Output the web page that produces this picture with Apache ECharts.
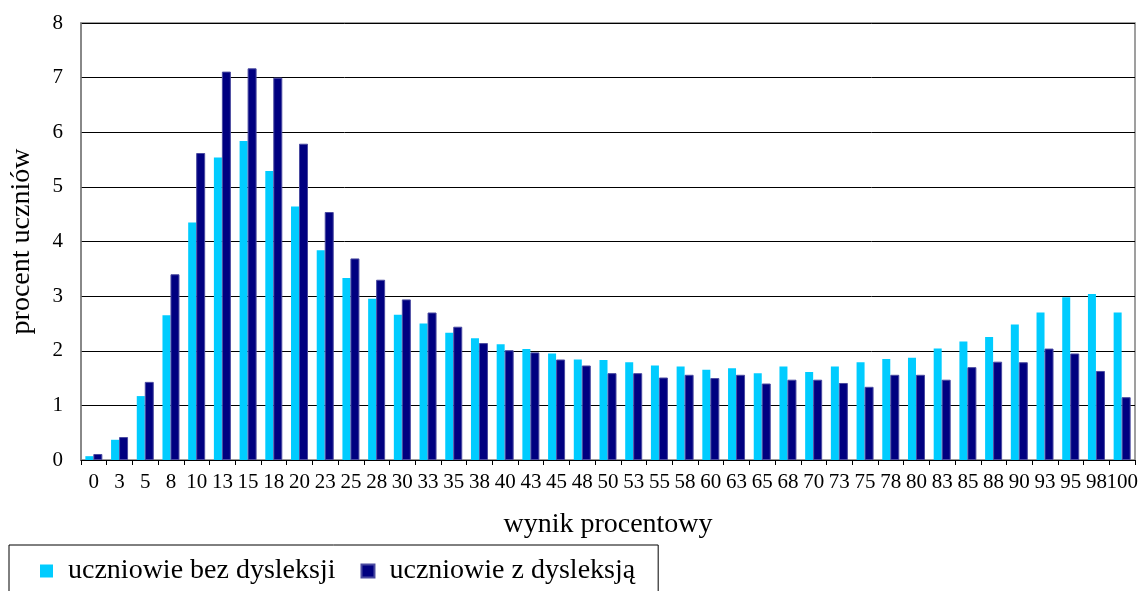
<!DOCTYPE html>
<html>
<head>
<meta charset="utf-8">
<script src="https://cdn.jsdelivr.net/npm/echarts@6/dist/echarts.min.js"></script>
<style>
  html, body { margin: 0; padding: 0; background: #fff; }
  #chart { width: 1141px; height: 591px; }
</style>
</head>
<body>
<div id="chart"></div>
<script>
// Wynik procentowy (kategorie osi X)
const categories = ['0','3','5','8','10','13','15','18','20','23','25','28','30','33','35','38','40','43','45','48','50','53','55','58','60','63','65','68','70','73','75','78','80','83','85','88','90','93','95','98','100'];

// Procent uczniów bez dysleksji
const bezDysleksji = [0.07, 0.37, 1.17, 2.65, 4.35, 5.54, 5.84, 5.29, 4.64, 3.84, 3.33, 2.95, 2.66, 2.50, 2.33, 2.23, 2.12, 2.03, 1.95, 1.84, 1.83, 1.79, 1.73, 1.71, 1.65, 1.68, 1.59, 1.71, 1.61, 1.71, 1.79, 1.85, 1.87, 2.04, 2.17, 2.25, 2.48, 2.70, 2.98, 3.04, 2.70];

// Procent uczniów z dysleksją
const zDysleksja = [0.11, 0.42, 1.43, 3.40, 5.62, 7.11, 7.17, 7.00, 5.79, 4.54, 3.69, 3.30, 2.94, 2.70, 2.44, 2.14, 2.01, 1.97, 1.84, 1.73, 1.59, 1.59, 1.51, 1.56, 1.50, 1.56, 1.40, 1.47, 1.47, 1.41, 1.34, 1.56, 1.56, 1.47, 1.70, 1.80, 1.79, 2.04, 1.95, 1.63, 1.15];

const yTicks = { min: 0, max: 8, interval: 1 };
const seriesNames = ['uczniowie bez dysleksji', 'uczniowie z dysleksją'];

const FONT = '"Liberation Serif", "Times New Roman", serif';

const chart = echarts.init(document.getElementById('chart'), null, { renderer: 'canvas' });
chart.setOption({
  animation: false,
  backgroundColor: '#ffffff',
  textStyle: { fontFamily: FONT, color: '#000' },
  grid: { left: 81, right: 6, top: 23, bottom: 131, show: true, borderColor: '#808080', borderWidth: 1.5, backgroundColor: 'transparent' },
  legend: {
    left: 9,
    top: 545,
    orient: 'horizontal',
    data: seriesNames,
    itemWidth: 13,
    itemHeight: 13,
    itemGap: 25,
    padding: [12, 23, 24, 31],
    borderColor: '#000',
    borderWidth: 1,
    icon: 'rect',
    textStyle: { fontFamily: FONT, fontSize: 28, color: '#000', padding: [0, 0, 0, 10] }
  },
  xAxis: {
    type: 'category',
    data: categories,
    boundaryGap: true,
    name: 'wynik procentowy',
    nameLocation: 'middle',
    nameGap: 51,
    nameTextStyle: { fontFamily: FONT, fontSize: 28, color: '#000' },
    axisLine: { show: true, lineStyle: { color: '#000', width: 1 } },
    axisTick: { show: true, interval: 0, length: 5, lineStyle: { color: '#000' } },
    axisLabel: { interval: 0, fontFamily: FONT, fontSize: 21, color: '#000', margin: 12 },
    splitLine: { show: false }
  },
  yAxis: {
    type: 'value',
    min: yTicks.min,
    max: yTicks.max,
    interval: yTicks.interval,
    name: 'procent uczniów',
    nameLocation: 'middle',
    nameGap: 45,
    nameRotate: 90,
    nameTextStyle: { fontFamily: FONT, fontSize: 28, color: '#000' },
    axisLine: { show: true, lineStyle: { color: '#808080', width: 1.5 } },
    axisTick: { show: false },
    axisLabel: { fontFamily: FONT, fontSize: 21, color: '#000', margin: 18 },
    splitLine: { show: true, lineStyle: { color: '#000', width: 1 } }
  },
  series: [
    {
      name: seriesNames[0],
      type: 'bar',
      data: bezDysleksji,
      barWidth: 8,
      barGap: '0%',
      itemStyle: { color: '#00CCFF' }
    },
    {
      name: seriesNames[1],
      type: 'bar',
      data: zDysleksja,
      barWidth: 9,
      itemStyle: { color: '#000080', borderColor: '#4a4aa0', borderWidth: 1 }
    }
  ]
});
</script>
</body>
</html>
